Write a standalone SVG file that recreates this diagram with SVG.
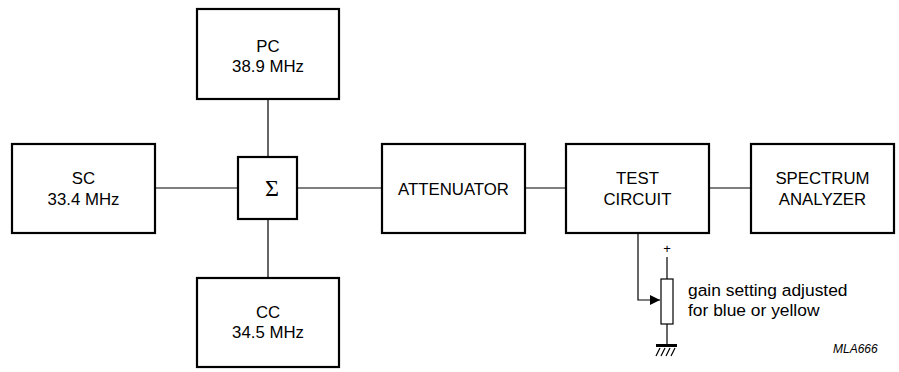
<svg xmlns="http://www.w3.org/2000/svg" width="899" height="372" viewBox="0 0 899 372">
<style>
.box{fill:#fff;stroke:#000;stroke-width:2.2}
.ln{fill:none;stroke:#000;stroke-width:1.2}
text{font-family:"Liberation Sans",Arial,sans-serif;font-size:16.8px;fill:#000;text-anchor:middle}
.lbl{text-anchor:start;font-size:17.4px}
.id{text-anchor:start;font-size:12px;font-style:italic}
</style>
<defs>
<marker id="arr" viewBox="0 0 10 10" refX="10" refY="5" markerWidth="10" markerHeight="10" markerUnits="userSpaceOnUse" orient="auto">
<path d="M0,0 L10,5 L0,10 Z" fill="#000"/>
</marker>
</defs>
<rect width="899" height="372" fill="#fff"/>
<g id="connectors">
<line class="ln" x1="155" y1="188" x2="238" y2="188"/>
<line class="ln" x1="297" y1="188" x2="382" y2="188"/>
<line class="ln" x1="525" y1="188" x2="566" y2="188"/>
<line class="ln" x1="709" y1="188" x2="751" y2="188"/>
<line class="ln" x1="268" y1="99" x2="268" y2="157"/>
<line class="ln" x1="268" y1="219" x2="268" y2="278"/>
<path class="ln" d="M638,233 V300 H660" marker-end="url(#arr)"/>
</g>
<g id="pc"><rect class="box" x="197" y="9" width="142" height="90"/><text x="268" y="52">PC</text><text x="268" y="72">38.9 MHz</text></g>
<g id="sc"><rect class="box" x="12" y="144" width="143" height="89"/><text x="83.5" y="184">SC</text><text x="83.5" y="205">33.4 MHz</text></g>
<g id="sum"><rect class="box" x="238" y="157" width="59" height="62"/><text x="272" y="196" style="font-family:'Liberation Serif','Times New Roman',serif;font-size:24px">Σ</text></g>
<g id="cc"><rect class="box" x="197" y="278" width="142" height="89"/><text x="268" y="318">CC</text><text x="268" y="338">34.5 MHz</text></g>
<g id="attenuator"><rect class="box" x="382" y="144" width="143" height="89"/><text x="453.5" y="195">ATTENUATOR</text></g>
<g id="test"><rect class="box" x="566" y="144" width="143" height="89"/><text x="637.5" y="184">TEST</text><text x="637.5" y="205">CIRCUIT</text></g>
<g id="spectrum"><rect class="box" x="751" y="144" width="143" height="89"/><text x="822.5" y="184">SPECTRUM</text><text x="822.5" y="205">ANALYZER</text></g>
<g id="pot">
<text x="667" y="253" style="font-size:13px">+</text>
<line class="ln" x1="667" y1="257" x2="667" y2="279"/>
<rect x="661" y="279" width="12" height="45" fill="#fff" stroke="#000" stroke-width="1.2"/>
<line class="ln" x1="667" y1="324" x2="667" y2="345"/>
<rect x="656" y="344" width="21" height="3" fill="#000"/>
<path class="ln" d="M660,348 L656,356 M665,348 L661,356 M670,348 L666,356 M675,348 L671,356" stroke-width="1"/>
<text class="lbl" x="688" y="296">gain setting adjusted</text>
<text class="lbl" x="688" y="316">for blue or yellow</text>
</g>
<text class="id" x="833" y="353">MLA666</text>
</svg>
